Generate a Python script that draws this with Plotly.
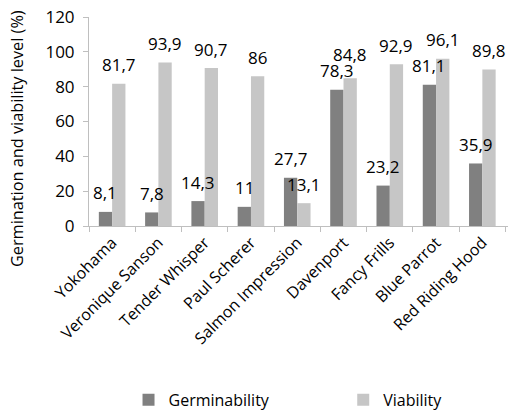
import plotly.graph_objects as go

cultivars = ["Yokohama", "Veronique Sanson", "Tender Whisper", "Paul Scherer",
             "Salmon Impression", "Davenport", "Fancy Frills", "Blue Parrot",
             "Red Riding Hood"]
germinability = [8.1, 7.8, 14.3, 11.0, 27.7, 78.3, 23.2, 81.1, 35.9]
viability = [81.7, 93.9, 90.7, 86.0, 13.1, 84.8, 92.9, 96.1, 89.8]
y_ticks = [0, 20, 40, 60, 80, 100, 120]

FONT = "Open Sans"
DARK = "#808080"
LIGHT = "#c6c6c6"
AXIS = "#bfbfbf"
BARGAP = 0.425

fig = go.Figure()
fig.add_trace(go.Bar(name="Germinability", x=cultivars, y=germinability,
                     marker=dict(color=DARK, line=dict(width=0)), legend="legend"))
fig.add_trace(go.Bar(name="Viability", x=cultivars, y=viability,
                     marker=dict(color=LIGHT, line=dict(width=0)), legend="legend2"))


def fmt(v):
    s = f"{v:.1f}".replace(".", ",")
    return s[:-2] if s.endswith(",0") else s


# value labels above each bar (decimal comma); when the two labels of a
# group would collide, the higher one is lifted a little
half = (1 - BARGAP) / 4
for i, (g, v) in enumerate(zip(germinability, viability)):
    close = abs(g - v) < 8
    for val, other, dx in ((g, v, -half), (v, g, half)):
        lift = 5 if (close and val > other) else 0
        fig.add_annotation(x=i + dx, y=val, xref="x", yref="y", text=fmt(val),
                           showarrow=False, yanchor="middle", yshift=19 + lift,
                           font=dict(family=FONT, size=17, color="#000000"))

# vertical axis title
fig.add_annotation(x=0, y=0.416, xref="paper", yref="paper", xanchor="center",
                   yanchor="middle", xshift=-72, textangle=-90, showarrow=False,
                   text="Germination and viability level (%)",
                   font=dict(family=FONT, size=16.3, color="#000000"))

legend_style = dict(orientation="h", xanchor="left", xref="container",
                    y=0.027, yanchor="middle", yref="container",
                    font=dict(family=FONT, size=16, color="#000000"))

fig.update_layout(
    width=510, height=411,
    margin=dict(l=89, r=2, t=17, b=185),
    plot_bgcolor="white", paper_bgcolor="white",
    barmode="group", bargap=BARGAP, bargroupgap=0,
    font=dict(family=FONT, color="#000000"),
    showlegend=True,
    legend=dict(x=0.252, **legend_style),
    legend2=dict(x=0.673, **legend_style),
)
fig.update_xaxes(type="category", showline=True, linecolor=AXIS, linewidth=1,
                 ticks="outside", tickson="boundaries", ticklen=5, tickcolor=AXIS,
                 tickangle=-45, tickfont=dict(family=FONT, size=16), showgrid=False)
fig.update_yaxes(range=[0, 120], tickvals=y_ticks, showline=True, linecolor=AXIS,
                 linewidth=1, ticks="outside", ticklen=5, tickcolor=AXIS,
                 ticklabelstandoff=5,
                 tickfont=dict(family=FONT, size=17), showgrid=False, zeroline=False)

fig.write_html("out.html")
